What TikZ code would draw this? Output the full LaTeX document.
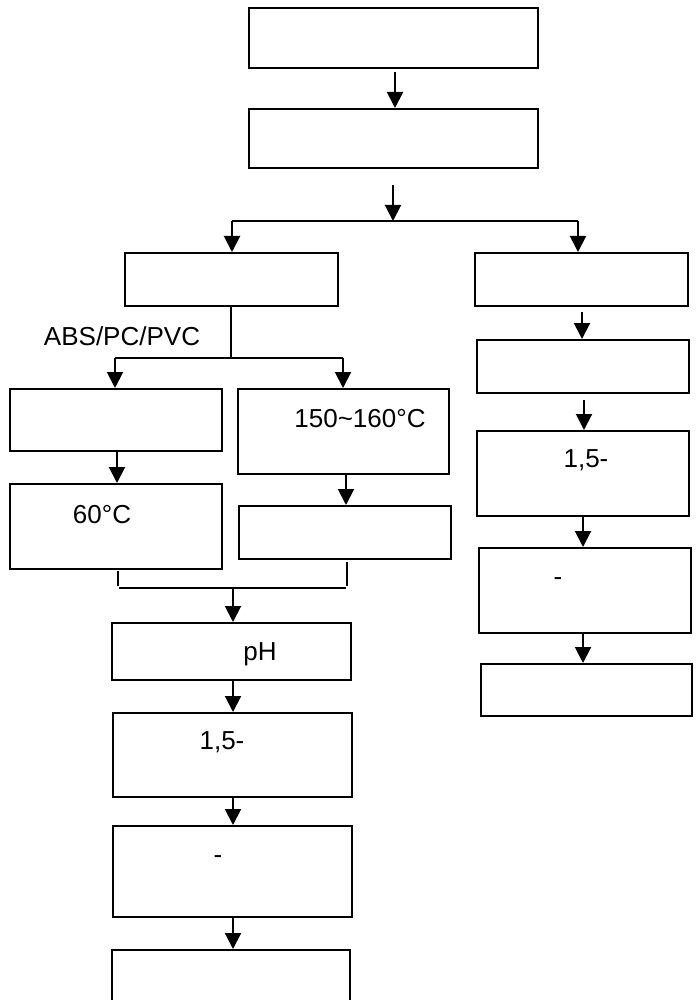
\documentclass[tikz,border=0pt]{standalone}
\usepackage{fontspec}
\setmainfont{Liberation Sans}
\usetikzlibrary{arrows.meta}
\tikzset{
  box/.style={draw=black, line width=2pt, rectangle, inner sep=0pt, fill=white},
  arr/.style={draw=black, line width=2pt, -{Triangle[width=16pt,length=16pt]}},
  ln/.style={draw=black, line width=2pt},
  txt/.style={font=\fontsize{26}{30}\selectfont, inner sep=0pt, anchor=base},
}
\newcommand\bx[6]{%
  \pgfmathsetmacro\bw{#4-#2}\pgfmathsetmacro\bh{#5-#3}%
  \pgfmathsetmacro\bcx{(#4+#2)/2}\pgfmathsetmacro\bcy{(#5+#3)/2}%
  \node[box, minimum width=\bw pt, minimum height=\bh pt] (#1) at (\bcx,\bcy) {#6};}
\begin{document}
\begin{tikzpicture}[x=1pt,y=-1pt]
\useasboundingbox (0,0) rectangle (699,1000);
\clip (0,0) rectangle (699,1000);
% boxes
\bx{b1}{249}{8}{538}{68}{}
\bx{b2}{249}{109}{538}{168}{}
\bx{b3}{125}{253}{338}{306}{}
\bx{r1}{475}{253}{688}{306}{}
\bx{l4}{10}{389}{222}{451}{}
\bx{m5}{238}{389}{449}{474}{}
\bx{l6}{10}{484}{222}{569}{}
\bx{m7}{239}{506}{451}{559}{}
\bx{b8}{112}{623}{351}{680}{}
\bx{b9}{113}{713}{352}{797}{}
\bx{b10}{113}{826}{352}{917}{}
\bx{b11}{112}{950}{350}{1020}{}
\bx{r2}{477}{340}{689}{393}{}
\bx{r3}{477}{431}{689}{516}{}
\bx{r4}{479}{548}{691}{633}{}
\bx{r5}{481}{664}{692}{716}{}
% texts
\node[txt] (t1) at (360,427) {150\textasciitilde160°C};
\node[txt] (t2) at (102,523) {60°C};
\node[txt] (t3) at (260,660) {pH};
\node[txt] (t4) at (222,749) {1,5-};
\node[txt] (t5) at (218,863) {-};
\node[txt] (t6) at (586,467) {1,5-};
\node[txt] (t7) at (558,585) {-};
\node[txt] (t8) at (122,345) {ABS/PC/PVC};
% coordinates
\coordinate (a2s) at (393,185);
\coordinate (sp1) at (393,221);
\coordinate (sp1l) at (232,221);
\coordinate (sp1r) at (578,221);
\coordinate (sp2) at (231,358);
\coordinate (sp2l) at (115,358);
\coordinate (sp2r) at (343,358);
\coordinate (jl1) at (118,571);
\coordinate (jl2) at (118,586);
\coordinate (jr1) at (347,562);
\coordinate (jr2) at (347,586);
\coordinate (jh1) at (119,588);
\coordinate (jh2) at (346,588);
\coordinate (jm) at (233,588);
% connectors
\draw[arr] ([xshift=1.5pt,yshift=-3pt]b1.south) -- ([xshift=1.5pt]b2.north);
\draw[arr] (a2s) -- (sp1);
\draw[ln] (sp1l) -- (sp1r);
\draw[arr] (sp1l) -- (b3.north -| sp1l);
\draw[arr] (sp1r) -- (r1.north -| sp1r);
\draw[ln] (b3.south -| sp2) -- (sp2);
\draw[ln] (sp2l) -- (sp2r);
\draw[arr] (sp2l) -- (l4.north -| sp2l);
\draw[arr] (sp2r) -- (m5.north -| sp2r);
\draw[arr] (l4.south -| 117,0) -- (l6.north -| 117,0);
\draw[arr] (m5.south -| 346,0) -- (m7.north -| 346,0);
\draw[ln] (jl1) -- (jl2);
\draw[ln] (jr1) -- (jr2);
\draw[ln] (jh1) -- (jh2);
\draw[arr] (jm) -- (b8.north -| jm);
\draw[arr] (b8.south -| jm) -- (b9.north -| jm);
\draw[arr] (b9.south -| jm) -- (b10.north -| jm);
\draw[arr] (b10.south -| jm) -- (b11.north -| jm);
\draw[arr] ([yshift=-5pt]r1.south -| 582,0) -- (r2.north -| 582,0);
\draw[arr] ([yshift=-6pt]r2.south -| 584,0) -- (r3.north -| 584,0);
\draw[arr] (r3.south -| 583,0) -- (r4.north -| 583,0);
\draw[arr] (r4.south -| 583,0) -- (r5.north -| 583,0);
\end{tikzpicture}
\end{document}
